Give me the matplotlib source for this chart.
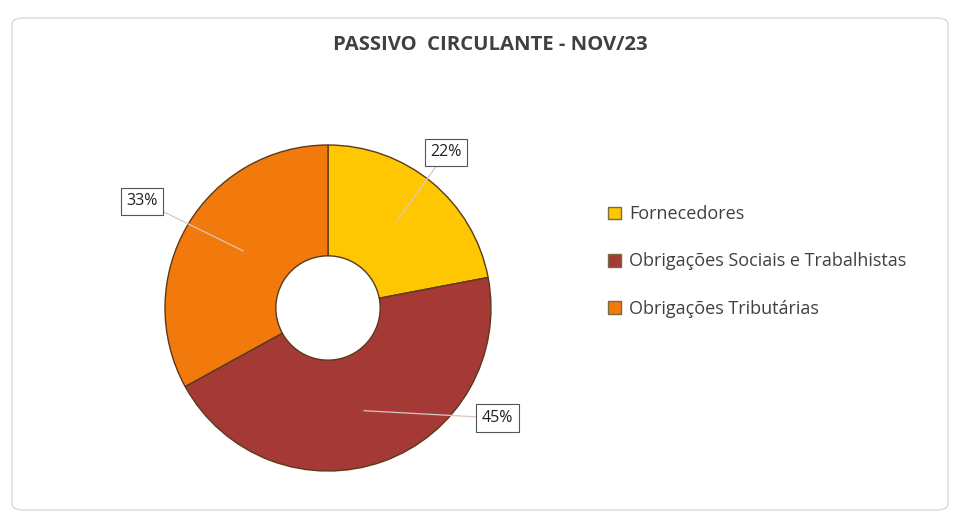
import matplotlib
matplotlib.use("Agg")
import matplotlib.pyplot as plt
from matplotlib.patches import FancyBboxPatch
import numpy as np

categories = ["Fornecedores", "Obrigações Sociais e Trabalhistas", "Obrigações Tributárias"]
values = [22, 45, 33]
colors = ["#FFC602", "#A43935", "#F27A0C"]
title = "PASSIVO  CIRCULANTE - NOV/23"

plt.rcParams['font.family'] = ['Open Sans', 'DejaVu Sans']

fig = plt.figure(figsize=(9.59, 5.17), dpi=100)
fig.patch.set_facecolor("white")

# chart border
border = FancyBboxPatch((12/959, 7/517), 936/959, 492/517,
                        boxstyle="round,pad=0,rounding_size=0.012",
                        transform=fig.transFigure, facecolor="none",
                        edgecolor="#D9D9D9", linewidth=1.0, zorder=-1)
fig.patches.append(border)

fig.text(490/959, 1 - 45/517, title, ha="center", va="center",
         fontsize=14.6, fontweight="bold", color="#404040")

ax = fig.add_axes([(328-163)/959, (209-163)/517, 326/959, 326/517])
wedges, _ = ax.pie(values, colors=colors, startangle=90, counterclock=False,
                   radius=1.0, wedgeprops=dict(width=0.68, edgecolor="#5a3a1a", linewidth=1.0))
ax.set_xlim(-1, 1)
ax.set_ylim(-1, 1)
ax.set_aspect("equal")
ax.axis("off")

# labels with leader lines
label_pos = [(0.725, 0.955), (1.04, -0.675), (-1.14, 0.655)]
anchor_pos = [(0.42, 0.53), (0.22, -0.63), (-0.52, 0.35)]
for v, lp, ap in zip(values, label_pos, anchor_pos):
    pct = round(100 * v / sum(values))
    ax.annotate(f"{pct}%", xy=ap, xytext=lp, ha="center", va="center",
                fontsize=11.5, color="#222222",
                bbox=dict(boxstyle="square,pad=0.35", fc="white", ec="#555555", lw=0.8),
                arrowprops=dict(arrowstyle="-", color="#d8c8c0", lw=0.9,
                                shrinkA=0, shrinkB=0),
                annotation_clip=False)

# legend
leg = fig.legend(wedges, categories, loc="upper left",
                 bbox_to_anchor=(592/959, 1 - 189/517), frameon=False,
                 fontsize=13, labelspacing=1.62, handlelength=0.7,
                 handleheight=0.7, handletextpad=0.45, labelcolor="#404040")
for h in leg.legend_handles:
    h.set_edgecolor("#7a6a40")

fig.savefig("out.png", dpi=100)
